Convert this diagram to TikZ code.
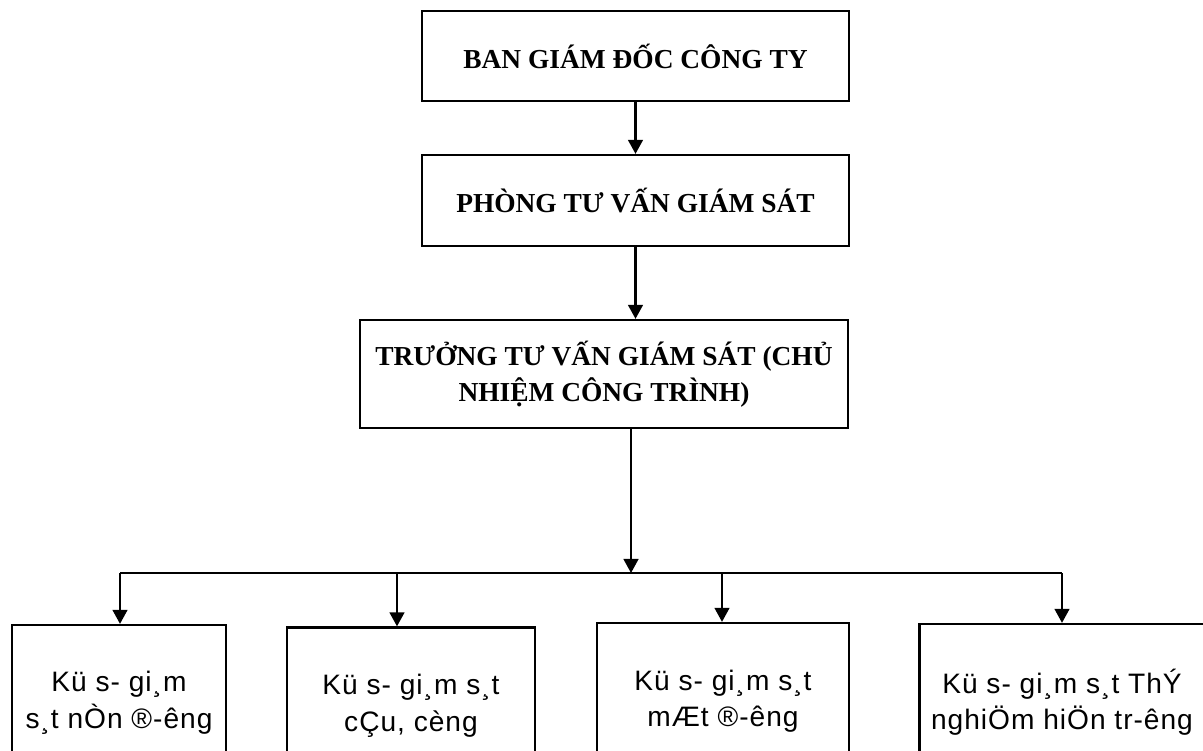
\documentclass[tikz,border=0pt]{standalone}
\usepackage{fontspec}
\setmainfont{Liberation Serif}
\newfontfamily\vnsans[LetterSpace=3.5]{Liberation Sans}
\usetikzlibrary{arrows.meta}

\begin{document}
\begin{tikzpicture}[x=0.025cm, y=-0.025cm, line width=1.6pt, -{Triangle[length=10pt,width=10.5pt]},
    main node/.style={rectangle, draw, align=center, font=\fontsize{19.5}{25.5}\selectfont\bfseries},
    staff node/.style={rectangle, draw, align=center, minimum height=3.9cm, font=\vnsans\fontsize{20}{26}\selectfont}]
  \useasboundingbox (0,0) rectangle (1203,750);
  \clip (0,0) rectangle (1203,750);

  \node[main node, minimum width=10.675cm, minimum height=2.25cm] (1) at (635.5,56) {BAN GIÁM ĐỐC CÔNG TY};
  \node[main node, minimum width=10.675cm, minimum height=2.275cm] (2) at (635.5,200.5) {PHÒNG TƯ VẤN GIÁM SÁT};
  \node[main node, minimum width=12.2cm, minimum height=2.7cm] (3) at (604,374) {TRƯỞNG TƯ VẤN GIÁM SÁT (CHỦ\\NHIỆM CÔNG TRÌNH)};

  \node[staff node, minimum width=5.35cm] (4) at (119,703) {Kü s- gi¸m\\s¸t nÒn ®-êng};
  \node[staff node, minimum width=6.2cm] (5) at (411,705.5) {Kü s- gi¸m s¸t\\cÇu, cèng};
  \node[staff node, minimum width=6.3cm] (6) at (723,701) {Kü s- gi¸m s¸t\\mÆt ®-êng};
  \node[staff node, minimum width=7.125cm] (7) at (1062,702) {Kü s- gi¸m s¸t ThÝ\\nghiÖm hiÖn tr-êng};

  % bus line
  \coordinate (hub) at (631,573);
  \coordinate (b4) at (120,573);
  \coordinate (b5) at (397,573);
  \coordinate (b6) at (722,573);
  \coordinate (b7) at (1062,573);

  \path (1) edge (2)
    (2.south) edge (2.south |- 3.north)
    (hub |- 3.south) edge (hub);
  \draw[-] (b4) -- (b7);
  \foreach \n in {4,...,7}
    \path (b\n) edge (b\n |- \n.north);
\end{tikzpicture}
\end{document}
